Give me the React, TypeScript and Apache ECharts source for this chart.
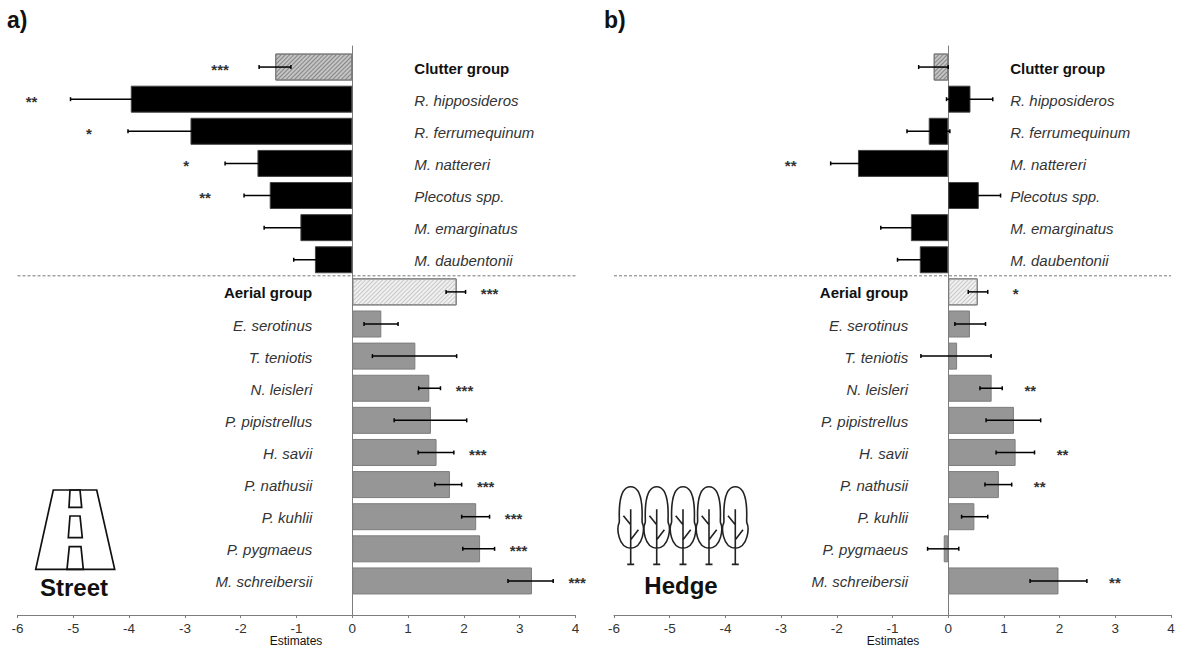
import React, { useEffect, useRef } from "react";
import * as echarts from "echarts";

const species = [
  "Clutter group", "R. hipposideros", "R. ferrumequinum", "M. nattereri", "Plecotus spp.",
  "M. emarginatus", "M. daubentonii", "Aerial group", "E. serotinus", "T. teniotis",
  "N. leisleri", "P. pipistrellus", "H. savii", "P. nathusii", "P. kuhlii", "P. pygmaeus",
  "M. schreibersii",
];

const streetValues = [-1.38, -3.97, -2.9, -1.7, -1.48, -0.93, -0.67, 1.87, 0.52, 1.13, 1.38, 1.41, 1.51, 1.75, 2.22, 2.29, 3.22];
const streetLow = [-1.67, -5.05, -4.02, -2.28, -1.94, -1.58, -1.05, 1.68, 0.21, 0.36, 1.19, 0.75, 1.18, 1.48, 1.96, 1.98, 2.79];
const streetHigh = [-1.1, -2.89, -1.78, -1.12, -1.02, -0.28, -0.29, 2.03, 0.82, 1.87, 1.58, 2.05, 1.82, 1.96, 2.46, 2.55, 3.6];
const streetStars = ["***", "**", "*", "*", "**", "", "", "***", "", "", "***", "", "***", "***", "***", "***", "***"];

const hedgeValues = [-0.26, 0.4, -0.35, -1.62, 0.55, -0.67, -0.51, 0.53, 0.39, 0.16, 0.78, 1.18, 1.21, 0.91, 0.47, -0.08, 1.98];
const hedgeLow = [-0.53, -0.03, -0.74, -2.11, 0.17, -1.21, -0.91, 0.36, 0.12, -0.49, 0.57, 0.68, 0.86, 0.66, 0.24, -0.37, 1.47];
const hedgeHigh = [0.0, 0.8, 0.03, -1.13, 0.94, -0.13, -0.11, 0.71, 0.67, 0.77, 0.97, 1.66, 1.55, 1.14, 0.71, 0.19, 2.49];
const hedgeStars = ["", "", "", "**", "", "", "", "*", "", "", "**", "", "**", "**", "", "", "**"];

const tickMin = -6;
const tickMax = 4;
const FONT = '"Liberation Sans", Arial, sans-serif';
const TREE =
  "M0 0C7 0 10 8 11 18C12 28 11 33 11.5 36C14 41 13 61 0 61.5C-13 61 -14 41 -11.5 36C-11 33 -12 28 -11 18C-10 8 -7 0 0 0Z" +
  "M0 22.5L0 77.7M-3.5 77.7L3.5 77.7M-7.3 29L0 38M7.7 43L0 53";
echarts.graphic.registerShape("tree", echarts.graphic.extendPath(TREE, {}) as any);

const hatch = (line: string) => ({
  color: line,
  symbol: "rect",
  dashArrayX: [1, 0],
  dashArrayY: [1, 2],
  rotation: -Math.PI / 4,
  symbolSize: 1,
});

function barStyle(i: number) {
  if (i === 0) return { color: "#c4c4c4", borderColor: "#7a7a7a", borderWidth: 1, decal: hatch("#858585") };
  if (i === 7) return { color: "#f0f0f0", borderColor: "#7a7a7a", borderWidth: 1, decal: hatch("#c8c8c8") };
  if (i < 7) return { color: "#000000", borderColor: "#444444", borderWidth: 1 };
  return { color: "#969696", borderColor: "#7d7d7d", borderWidth: 1 };
}

function panelSeries(
  idx: number,
  values: number[],
  low: number[],
  high: number[],
  stars: string[],
  negGap: number,
  posGap: number,
) {
  const g = idx * 2 + 1;
  const axes = { xAxisIndex: g, yAxisIndex: g };
  return [
    {
      type: "bar",
      ...axes,
      barWidth: 27,
      data: values.map((v, i) => ({ value: v, itemStyle: barStyle(i) })),
    },
    {
      type: "custom",
      ...axes,
      z: 5,
      encode: { x: [0, 2], y: 1 },
      data: species.map((s, i) => [low[i], s, high[i]]),
      renderItem: (_: any, api: any) => {
        const a = api.coord([api.value(0), api.value(1)]);
        const b = api.coord([api.value(2), api.value(1)]);
        const style = { stroke: "#000000", lineWidth: 1.5, fill: "none" };
        const line = (x1: number, y1: number, x2: number, y2: number) => ({
          type: "line",
          shape: { x1, y1, x2, y2 },
          style,
        });
        return {
          type: "group",
          children: [
            line(a[0], a[1], b[0], b[1]),
            line(a[0], a[1] - 2, a[0], a[1] + 2),
            line(b[0], b[1] - 2, b[0], b[1] + 2),
          ],
        };
      },
    },
    {
      type: "custom",
      ...axes,
      z: 6,
      encode: { x: 0, y: 1 },
      data: species.map((s, i) => [values[i] < 0 ? low[i] : high[i], s, stars[i]]),
      renderItem: (params: any, api: any) => {
        const text = stars[params.dataIndex];
        if (!text) return null;
        const p = api.coord([api.value(0), api.value(1)]);
        const neg = values[params.dataIndex] < 0;
        return {
          type: "text",
          style: {
            x: p[0] + (neg ? negGap : posGap),
            y: p[1] + 2,
            text,
            align: "center",
            verticalAlign: "middle",
            fill: "#333333",
            font: `bold 15px ${FONT}`,
          },
        };
      },
    },
    {
      type: "custom",
      ...axes,
      z: 6,
      encode: { x: 0, y: 1 },
      data: species.map((s) => [0, s]),
      renderItem: (params: any, api: any) => {
        const i = params.dataIndex;
        const p = api.coord([0, api.value(1)]);
        const right = i < 7;
        const bold = i === 0 || i === 7;
        return {
          type: "text",
          style: {
            x: p[0] + (right ? 62 : -40),
            y: p[1] + 1,
            text: species[i],
            align: right ? "left" : "right",
            verticalAlign: "middle",
            fill: bold ? "#111111" : "#333333",
            font: `${bold ? "bold" : "italic"} 15px ${FONT}`,
          },
        };
      },
    },
    {
      type: "custom",
      ...axes,
      z: 1,
      encode: { x: 0, y: 1 },
      data: [[tickMin, species[6], tickMax]],
      renderItem: (_: any, api: any) => {
        const a = api.coord([api.value(0), api.value(1)]);
        const b = api.coord([api.value(2), api.value(1)]);
        const y = a[1] + api.size([0, 1])[1] / 2;
        return {
          type: "line",
          shape: { x1: a[0], y1: y, x2: b[0], y2: y },
          style: { stroke: "#777777", lineWidth: 1, lineDash: [3, 2] },
        };
      },
    },
  ];
}

const road = [
  [[53.3, 490], [96.7, 490], [114.7, 569.3], [35.7, 569.3]],
  [[70, 490], [80, 490], [81.7, 507.3], [69, 507.3]],
  [[70, 516], [80, 516], [82.3, 537.7], [68.3, 537.7]],
  [[69.3, 546.7], [81, 546.7], [83.3, 569.3], [67, 569.3]],
];
const treeX = [630.7, 656.7, 683, 709, 735.3];

const text = (x: number, y: number, t: string, font: string, align = "center") => ({
  type: "text",
  x,
  y,
  style: { text: t, font, fill: "#111111", align, verticalAlign: "middle" },
});

export default function App() {
  const ref = useRef<HTMLDivElement>(null);
  useEffect(() => {
    const chart = echarts.init(ref.current!, undefined, { renderer: "svg" });
    const gridsX = [
      { left: 17.5, width: 558 },
      { left: 614, width: 557 },
    ];
    const grid: any[] = [];
    const xAxis: any[] = [];
    const yAxis: any[] = [];
    gridsX.forEach((gx, k) => {
      grid.push({ ...gx, top: 46, height: 569 }, { ...gx, top: 51, height: 546 });
      xAxis.push(
        {
          type: "value",
          gridIndex: k * 2,
          min: tickMin,
          max: tickMax,
          interval: 1,
          position: "bottom",
          axisLine: { show: true, onZero: false, lineStyle: { color: "#7d7d7d", width: 1 } },
          axisTick: { show: true, length: 3, lineStyle: { color: "#7d7d7d" } },
          axisLabel: { color: "#333333", fontSize: 13.5, fontFamily: FONT, margin: 6 },
          splitLine: { show: false },
        },
        { type: "value", gridIndex: k * 2 + 1, min: tickMin, max: tickMax, show: false, splitLine: { show: false } },
      );
      yAxis.push(
        {
          type: "value",
          gridIndex: k * 2,
          min: 0,
          max: 1,
          axisLine: { show: true, onZero: true, lineStyle: { color: "#7d7d7d", width: 1 } },
          axisTick: { show: false },
          axisLabel: { show: false },
          splitLine: { show: false },
        },
        { type: "category", gridIndex: k * 2 + 1, data: species, inverse: true, show: false },
      );
    });
    chart.setOption({
      animation: false,
      backgroundColor: "#ffffff",
      grid,
      xAxis,
      yAxis,
      series: [
        ...panelSeries(0, streetValues, streetLow, streetHigh, streetStars, -39, 24),
        ...panelSeries(1, hedgeValues, hedgeLow, hedgeHigh, hedgeStars, -40, 28),
      ],
      graphic: [
        text(7, 20, "a)", `bold 23px ${FONT}`, "left"),
        text(604, 20, "b)", `bold 23px ${FONT}`, "left"),
        text(296, 640.5, "Estimates", `12px ${FONT}`),
        text(893, 640.5, "Estimates", `12px ${FONT}`),
        text(74, 587, "Street", `bold 24px ${FONT}`),
        text(681, 585, "Hedge", `bold 24px ${FONT}`),
        ...road.map((points) => ({
          type: "polygon",
          shape: { points },
          style: { fill: "none", stroke: "#111111", lineWidth: 1.7 },
        })),
        ...treeX.map((x) => ({
          type: "tree",
          x,
          y: 486.7,
          style: { fill: "none", stroke: "#222222", lineWidth: 1.6 },
        })),
      ],
    });
    return () => chart.dispose();
  }, []);
  return <div ref={ref} style={{ position: "absolute", left: 0, top: 0, width: 1181, height: 649 }} />;
}
